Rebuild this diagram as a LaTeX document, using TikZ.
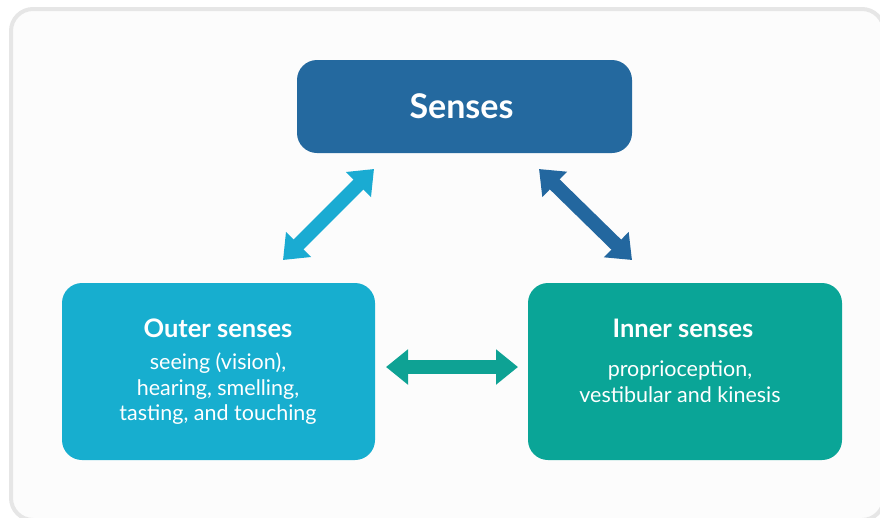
\documentclass[tikz,border=0pt]{standalone}
\usepackage{fontspec}
\setmainfont{Lato}
\usetikzlibrary{arrows.meta}

\definecolor{frameline}{HTML}{E6E6E6}
\definecolor{framefill}{HTML}{FCFCFC}
\definecolor{sensesblue}{HTML}{24699F}
\definecolor{outerblue}{HTML}{17AECF}
\definecolor{innerteal}{HTML}{0AA597}
\definecolor{arrowlight}{HTML}{1AABD2}
\definecolor{arrowdark}{HTML}{23679F}
\definecolor{arrowteal}{HTML}{0EA294}

\begin{document}
\begin{tikzpicture}[x=1pt,y=-1pt,
  box/.style={rounded corners=20pt, draw=none, inner sep=0pt},
  titletext/.style={text=white, font=\fontsize{25.5}{30}\selectfont\bfseries, inner sep=0pt},
  bodytext/.style={text=white, font=\fontsize{21.5}{25.5}\selectfont, align=center, inner sep=0pt},
  dblarrow/.style={line width=14pt,
    arrows={Triangle[width=34pt,length=22pt]-Triangle[width=34pt,length=22pt]}}
]
\useasboundingbox (0,0) rectangle (880,517);

% background panel
\draw[frameline, line width=4pt, fill=framefill, rounded corners=22pt]
  (11,9) rectangle (884,520);

% boxes
\node[box, fill=sensesblue, minimum width=335pt, minimum height=93pt]
  (senses) at (464.5,106.5) {};
\node[box, fill=outerblue, minimum width=313pt, minimum height=177pt]
  (outer) at (218.5,371.5) {};
\node[box, fill=innerteal, minimum width=314pt, minimum height=177pt]
  (inner) at (685,371.5) {};

% labels
\node[text=white, font=\fontsize{34}{40}\selectfont\bfseries, inner sep=0pt]
  (sensesT) at (461.5,106) {Senses};
\node[titletext] (outerT) at (218,328) {Outer senses};
\node[bodytext, anchor=north] (outerB) at (218,353)
  {seeing (vision),\\hearing, smelling,\\tasting, and touching};
\node[titletext] (innerT) at (683,328) {Inner senses};
\node[bodytext, anchor=north] (innerB) at (680,361)
  {proprioception,\\vestibular and kinesis};

% connector end points
\coordinate (aL1) at (283,260);
\coordinate (aL2) at (374,169);
\coordinate (aR1) at (539,169);
\coordinate (aR2) at (632,260);
\coordinate (aH1) at (386,367);
\coordinate (aH2) at (518,367);

% connectors
\draw[dblarrow, arrowlight] (aL1) -- (aL2);
\draw[dblarrow, arrowdark] (aR1) -- (aR2);
\draw[dblarrow, arrowteal] (aH1) -- (aH2);
\end{tikzpicture}
\end{document}
